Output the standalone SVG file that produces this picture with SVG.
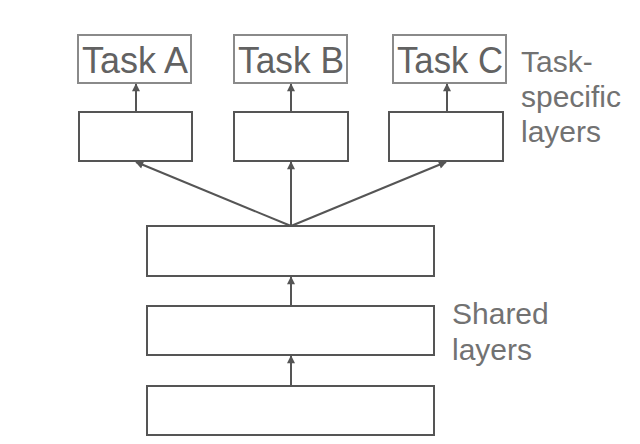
<svg xmlns="http://www.w3.org/2000/svg" width="640" height="444" viewBox="0 0 640 444">
<style>
.task{fill:#fff;stroke:#8a8a8a;stroke-width:2}
.layer{fill:#fff;stroke:#555;stroke-width:2}
.tt{font-family:"Liberation Sans",Arial,sans-serif;font-size:36px;fill:#626262}
.lbl{font-family:"Liberation Sans",Arial,sans-serif;font-size:30px;fill:#727272}
.conn{stroke:#555;stroke-width:2;fill:none;marker-end:url(#ah)}
</style>
<defs>
<marker id="ah" viewBox="0 0 10 10" refX="9" refY="5" markerWidth="9" markerHeight="8" markerUnits="userSpaceOnUse" orient="auto">
<path d="M0,0 L10,5 L0,10 z" fill="#555"/>
</marker>
</defs>
<rect width="640" height="444" fill="#fff"/>
<g id="taskA"><rect class="task" x="78" y="35" width="113" height="48"/><text class="tt" x="82" y="73" textLength="106" lengthAdjust="spacingAndGlyphs">Task A</text></g>
<g id="taskB"><rect class="task" x="234" y="35" width="113" height="48"/><text class="tt" x="238" y="73" textLength="106" lengthAdjust="spacingAndGlyphs">Task B</text></g>
<g id="taskC"><rect class="task" x="393" y="35" width="113" height="48"/><text class="tt" x="397" y="73" textLength="106" lengthAdjust="spacingAndGlyphs">Task C</text></g>
<g id="layerA"><rect class="layer" x="79" y="112" width="113" height="49"/></g>
<g id="layerB"><rect class="layer" x="234" y="112" width="114" height="49"/></g>
<g id="layerC"><rect class="layer" x="389" y="112" width="114" height="49"/></g>
<g id="shared1"><rect class="layer" x="147" y="226" width="287" height="50"/></g>
<g id="shared2"><rect class="layer" x="147" y="306" width="287" height="49"/></g>
<g id="shared3"><rect class="layer" x="147" y="386" width="287" height="49"/></g>
<g id="labels">
<text class="lbl" x="521" y="72">Task-</text>
<text class="lbl" x="521" y="107">specific</text>
<text class="lbl" x="521" y="142">layers</text>
<text class="lbl" x="452" y="324">Shared</text>
<text class="lbl" x="452" y="360">layers</text>
</g>
<g id="connectors">
<line class="conn" x1="136" y1="112" x2="136" y2="84"/>
<line class="conn" x1="291" y1="112" x2="291" y2="84"/>
<line class="conn" x1="447" y1="112" x2="447" y2="84"/>
<line class="conn" x1="291" y1="226" x2="136" y2="162"/>
<line class="conn" x1="291" y1="226" x2="291" y2="162"/>
<line class="conn" x1="291" y1="226" x2="446" y2="162"/>
<line class="conn" x1="291" y1="306" x2="291" y2="277"/>
<line class="conn" x1="291" y1="386" x2="291" y2="356"/>
</g>
</svg>
